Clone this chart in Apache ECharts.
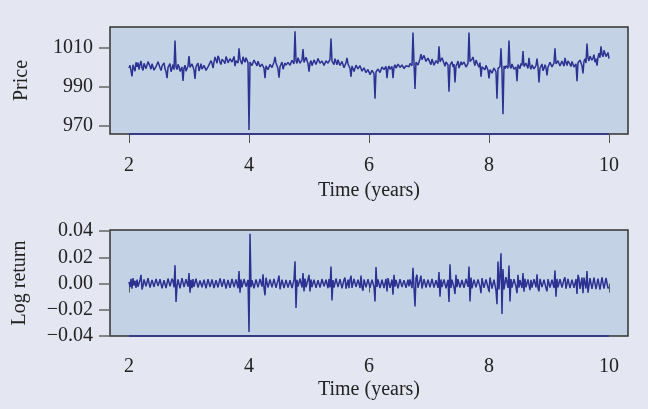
<!DOCTYPE html>
<html>
<head>
<meta charset="utf-8">
<script src="https://cdn.jsdelivr.net/npm/echarts@6/dist/echarts.min.js"></script>
<style>
html,body{margin:0;padding:0;background:#e4e6f1;}
#chart{width:648px;height:409px;}
</style>
</head>
<body>
<div id="chart"></div>
<script>
// Observation times: equally spaced samples from year 2 to year 10
const startYear = 2;
const stepYears = 1 / 60;

const xTicks = [2, 4, 6, 8, 10];
const priceTicks = [970, 990, 1010];
const returnTicks = [-0.04, -0.02, 0, 0.02, 0.04];

const price = [
  999.8, 1001.2, 998.4, 995.5, 1001.5, 999.6, 998.2, 1002.8, 1000.4, 1002.6, 999.0, 1001.7, 1003.4, 999.8, 998.6, 1002.2, 1001.9, 999.5, 1000.3, 1003.1,
  1003.9, 1000.6, 999.2, 1002.0, 1001.4, 998.7, 997.8, 1000.5, 1000.9, 1003.0, 1002.7, 999.9, 998.5, 1000.8, 1001.2, 1002.5, 999.4, 997.9, 994.6, 1000.2,
  1000.8, 1002.1, 997.9, 999.6, 1001.6, 999.0, 1014.0, 1000.4, 999.0, 1001.7, 1000.6, 998.1, 997.2, 1000.3, 993.2, 999.8, 1001.3, 998.2, 998.7, 1001.0,
  1006.0, 1000.1, 999.4, 1001.9, 1001.0, 998.8, 994.2, 1000.5, 1000.7, 1002.4, 998.3, 1000.0, 1002.1, 999.3, 999.0, 1001.2, 1001.8, 998.6, 997.6, 1000.4,
  1001.2, 999.8, 1003.6, 1002.2, 999.8, 1003.0, 1005.5, 1003.9, 1002.3, 1006.1, 1004.8, 1002.7, 1001.6, 1004.3, 1005.2, 1003.1, 1002.0, 1005.7, 1004.4, 1002.5,
  1001.9, 1004.6, 1005.0, 1002.9, 1003.1, 1005.8, 1000.8, 1003.6, 1004.6, 1002.4, 1010.0, 1004.2, 1003.5, 1001.8, 1005.6, 1003.9, 1002.8, 1005.1, 1004.9, 1002.6,
  968.0, 1002.9, 1003.8, 1001.1, 1001.2, 1003.9, 1004.6, 1002.0, 1000.9, 1003.3, 1003.2, 1000.5, 999.6, 1001.8, 1002.1, 999.7, 994.6, 1000.9, 1001.4, 999.0,
  998.9, 1001.6, 1002.6, 1000.1, 1000.3, 1002.9, 1005.5, 1002.4, 1001.0, 999.3, 994.8, 1000.6, 1001.7, 1002.9, 999.2, 1000.8, 1002.4, 1001.3, 1000.6, 1002.7,
  1003.3, 1001.2, 1001.0, 1003.8, 1004.1, 1002.0, 1018.7, 1003.5, 1002.2, 1005.1, 1004.5, 1002.3, 1001.9, 1004.0, 1009.5, 1002.7, 1003.0, 1005.3, 1004.8, 1002.1,
  998.0, 1002.4, 1003.6, 1001.0, 1001.4, 1004.0, 1004.2, 1001.6, 1002.0, 1004.7, 1005.1, 1002.3, 1001.7, 1003.4, 1003.9, 1001.2, 1000.8, 1003.5, 1004.0, 1002.3,
  1002.2, 1004.3, 1015.0, 1003.3, 1002.9, 1001.5, 1004.6, 1003.0, 1001.5, 1004.1, 1003.4, 1001.1, 1000.2, 1003.2, 1002.8, 1000.0, 999.7, 1002.5, 1005.0, 1001.9,
  1001.3, 999.6, 995.3, 1000.9, 1000.6, 998.0, 998.4, 1001.3, 1001.9, 999.4, 999.1, 1001.0, 1000.4, 998.2, 997.6, 999.9, 999.5, 997.4, 996.8, 999.1,
  998.9, 996.4, 996.0, 998.6, 998.2, 996.9, 984.0, 997.8, 997.4, 999.3, 999.8, 997.5, 997.0, 1000.4, 1001.2, 999.0, 998.6, 1000.7, 994.6, 999.6,
  1000.9, 999.2, 998.3, 1000.6, 994.6, 1000.2, 1001.5, 999.8, 999.4, 1001.8, 1002.3, 1000.1, 999.9, 1001.4, 1001.6, 999.5, 998.7, 1001.0, 1002.0, 1000.3,
  1000.5, 1002.2, 1003.1, 1001.0, 1018.0, 1002.5, 989.0, 1002.8, 1003.6, 1001.4, 1001.8, 1004.5, 1007.0, 1004.1, 1003.9, 1006.3, 1005.6, 1003.2, 1002.2, 1004.9,
  1004.7, 1002.6, 1001.5, 1004.4, 1003.8, 1001.2, 1000.9, 1003.6, 1004.2, 1002.1, 1011.0, 1003.0, 1002.6, 1005.1, 1004.1, 1002.2, 1000.7, 1002.9, 1003.3, 1001.4,
  987.6, 1001.3, 1002.0, 1003.1, 1000.4, 1001.8, 992.4, 1000.8, 1001.9, 1003.4, 999.8, 1001.2, 1003.0, 1001.5, 1000.6, 1002.9, 1002.8, 1000.3, 999.9, 1002.2,
  1018.0, 1003.1, 1002.5, 1004.4, 1005.5, 1002.7, 1001.0, 1003.9, 1003.7, 1001.4, 1000.2, 1002.6, 995.3, 1000.4, 1001.4, 1000.0, 998.9, 1001.2, 1000.6, 998.7,
  994.5, 999.0, 999.4, 997.2, 997.6, 999.8, 1000.2, 997.9, 984.0, 999.5, 998.8, 1000.6, 1010.0, 998.0, 976.0, 1000.9, 999.5, 1001.0, 1001.8, 999.7,
  1014.0, 1000.7, 999.6, 1001.9, 1001.7, 999.2, 998.9, 1000.4, 993.0, 1001.6, 1000.8, 999.5, 1002.2, 1001.1, 1008.5, 1000.6, 999.9, 1002.3, 1001.6, 999.6,
  1005.0, 1000.9, 999.2, 1001.4, 1001.9, 999.4, 998.6, 1001.1, 1004.7, 1000.5, 992.4, 999.7, 1000.3, 1001.9, 998.4, 999.6, 1001.5, 1000.0, 996.0, 1000.2,
  1000.9, 1002.8, 1002.6, 1000.4, 999.8, 1002.3, 1010.0, 1002.0, 1001.4, 1003.6, 1003.0, 1000.9, 1000.2, 1003.4, 1002.4, 1000.8, 1005.0, 1002.6, 1001.1, 1003.5,
  1004.2, 1001.8, 1000.6, 1003.2, 1002.9, 1000.3, 999.7, 1002.0, 993.0, 1002.5, 1001.8, 1003.9, 1003.4, 1001.0, 997.0, 1003.3, 1004.6, 1002.4, 1012.4, 1004.8,
  1003.5, 1005.9, 1006.2, 1003.8, 1005.0, 1006.7, 1002.8, 1004.6, 1001.0, 1005.3, 1007.4, 1005.1, 1011.0, 1006.8, 1005.6, 1008.9, 1008.3, 1005.7, 1006.0, 1007.8,
  1004.7
];

const logReturn = [
  0.0012, -0.0028, 0.0035, -0.0040, 0.0042, -0.0015, 0.0021, -0.0033, 0.0030, -0.0024, -0.0038, 0.0027, 0.0066, -0.0045, -0.0018, 0.0031, 0.0027, -0.0022, -0.0032, 0.0040,
  0.0036, -0.0031, -0.0024, 0.0028, 0.0019, -0.0026, -0.0041, 0.0035, 0.0028, -0.0020, -0.0015, 0.0033, 0.0039, -0.0037, -0.0030, 0.0025, 0.0022, -0.0034, -0.0046, 0.0038,
  0.0031, -0.0022, -0.0027, 0.0036, 0.0018, -0.0029, 0.0140, -0.0140, -0.0020, 0.0032, 0.0025, -0.0036, -0.0036, 0.0041, 0.0043, -0.0027, -0.0029, 0.0034, 0.0020, -0.0025,
  0.0080, -0.0070, 0.0029, -0.0035, 0.0034, -0.0026, -0.0041, 0.0037, 0.0026, -0.0031, -0.0019, 0.0024, 0.0037, -0.0028, -0.0033, 0.0030, 0.0021, -0.0036, -0.0028, 0.0033,
  0.0035, -0.0027, -0.0022, 0.0031, 0.0040, -0.0034, -0.0031, 0.0026, 0.0024, -0.0030, -0.0037, 0.0039, 0.0029, -0.0025, -0.0020, 0.0033, 0.0046, -0.0038, -0.0034, 0.0028,
  0.0027, -0.0032, -0.0039, 0.0035, 0.0022, -0.0028, -0.0026, 0.0031, 0.0038, -0.0036, 0.0096, -0.0070, 0.0031, -0.0029, -0.0025, 0.0034, 0.0036, -0.0024, -0.0031, 0.0027,
  -0.0370, 0.0380, -0.0028, 0.0025, 0.0033, -0.0036, -0.0040, 0.0031, 0.0026, -0.0029, -0.0032, 0.0035, 0.0028, -0.0024, 0.0070, -0.0033, -0.0090, 0.0044, 0.0041, -0.0030,
  -0.0027, 0.0032, 0.0035, -0.0029, -0.0038, 0.0036, 0.0029, -0.0033, -0.0021, 0.0027, 0.0060, -0.0044, -0.0044, 0.0030, 0.0032, -0.0035, -0.0026, 0.0028, 0.0039, -0.0031,
  -0.0030, 0.0026, 0.0024, -0.0035, -0.0036, 0.0030, 0.0170, -0.0187, 0.0028, -0.0024, -0.0033, 0.0037, 0.0029, -0.0030, 0.0080, -0.0060, 0.0037, -0.0028, -0.0025, 0.0033,
  0.0066, -0.0060, 0.0031, -0.0027, -0.0024, 0.0030, 0.0035, -0.0033, -0.0029, 0.0026, 0.0022, -0.0031, -0.0038, 0.0034, 0.0027, -0.0022, -0.0021, 0.0029, 0.0033, -0.0036,
  0.0033, -0.0029, 0.0130, -0.0130, 0.0026, -0.0031, -0.0035, 0.0038, 0.0040, -0.0027, -0.0027, 0.0033, 0.0031, -0.0036, -0.0023, 0.0029, 0.0045, -0.0040, -0.0036, 0.0030,
  -0.0036, 0.0028, 0.0060, -0.0033, -0.0048, 0.0035, 0.0029, -0.0026, -0.0032, 0.0030, 0.0024, -0.0034, 0.0060, -0.0029, -0.0055, 0.0032, 0.0036, -0.0028, -0.0030, 0.0034,
  0.0027, -0.0033, -0.0039, 0.0030, 0.0033, -0.0027, -0.0137, 0.0125, -0.0026, 0.0031, 0.0038, -0.0035, -0.0031, 0.0029, 0.0022, -0.0034, -0.0030, 0.0036, -0.0060, 0.0041,
  0.0045, -0.0033, -0.0028, 0.0031, -0.0086, 0.0066, -0.0024, 0.0028, 0.0032, -0.0036, -0.0037, 0.0034, 0.0025, -0.0027, -0.0030, 0.0026, 0.0036, -0.0032, -0.0024, 0.0030,
  -0.0022, 0.0031, 0.0029, -0.0035, 0.0120, -0.0030, -0.0175, 0.0040, 0.0067, -0.0032, -0.0034, 0.0027, 0.0060, -0.0038, -0.0041, 0.0033, 0.0027, -0.0030, -0.0025, 0.0029,
  0.0034, -0.0029, -0.0038, 0.0035, 0.0023, -0.0031, -0.0029, 0.0026, 0.0040, -0.0033, 0.0087, -0.0100, 0.0031, -0.0027, -0.0026, 0.0032, 0.0035, -0.0036, -0.0030, 0.0028,
  -0.0140, 0.0147, -0.0033, 0.0029, 0.0031, -0.0028, -0.0080, 0.0066, -0.0027, 0.0034, 0.0036, -0.0031, -0.0030, 0.0027, 0.0024, -0.0033, -0.0039, 0.0035, 0.0030, -0.0026,
  0.0130, -0.0137, 0.0045, -0.0036, -0.0032, 0.0030, 0.0026, -0.0029, -0.0035, 0.0032, 0.0028, -0.0024, -0.0073, 0.0041, 0.0041, -0.0033, -0.0028, 0.0031, 0.0033, -0.0030,
  -0.0060, 0.0046, 0.0038, -0.0038, -0.0041, 0.0029, 0.0035, -0.0052, -0.0157, 0.0167, -0.0045, 0.0062, 0.0230, -0.0233, 0.0110, -0.0045, -0.0050, 0.0048, 0.0039, -0.0034,
  0.0137, -0.0137, 0.0034, -0.0030, -0.0029, 0.0033, 0.0028, -0.0026, -0.0073, 0.0066, -0.0031, 0.0027, 0.0036, -0.0034, 0.0080, -0.0062, 0.0035, -0.0028, -0.0030, 0.0032,
  0.0045, -0.0050, 0.0028, -0.0031, -0.0036, 0.0033, 0.0031, -0.0029, 0.0070, -0.0034, -0.0060, 0.0036, 0.0031, -0.0027, -0.0027, 0.0030, 0.0038, -0.0035, -0.0060, 0.0034,
  0.0033, -0.0030, -0.0025, 0.0029, 0.0029, -0.0034, 0.0100, -0.0100, 0.0036, -0.0028, -0.0031, 0.0034, 0.0024, -0.0030, -0.0036, 0.0031, 0.0048, -0.0040, -0.0040, 0.0035,
  0.0032, -0.0035, -0.0036, 0.0030, 0.0027, -0.0032, -0.0030, 0.0034, -0.0080, 0.0066, 0.0038, -0.0041, -0.0033, 0.0045, -0.0073, 0.0045, 0.0045, -0.0038, 0.0096, -0.0070,
  -0.0070, 0.0041, 0.0037, -0.0040, -0.0033, 0.0045, 0.0040, -0.0042, -0.0045, 0.0038, 0.0052, -0.0046, -0.0038, 0.0047, 0.0044, -0.0039, -0.0035, 0.0042, 0.0040, -0.0036,
  -0.0030
];

const xMin = 1.683, xMax = 10.317;
const priceMin = 965.9, priceMax = 1020.9;
const retMin = -0.0400, retMax = 0.0408;

const FONT = '"Liberation Serif", "DejaVu Serif", serif';
const TEXT = '#222222';
const LINE = '#2d3192';

const priceData = price.map((v, i) => [startYear + i * stepYears, v]);
const retData = logReturn.map((v, i) => [startYear + i * stepYears, v]);

function fmtRet(v) {
  const s = Math.abs(v).toFixed(2);
  if (Math.abs(v) < 1e-9) return '0.00';
  return v < 0 ? '\u2212' + s : s;
}

function xAxisCfg(gridIndex, labelMargin, nameGap) {
  return {
    type: 'value', gridIndex: gridIndex, min: xMin, max: xMax,
    name: 'Time (years)', nameLocation: 'middle', nameGap: nameGap,
    nameTextStyle: {fontFamily: FONT, fontSize: 20, color: TEXT},
    axisLine: {show: false},
    axisTick: {show: true, length: 9, inside: false, customValues: xTicks, lineStyle: {color: '#555', width: 1}},
    axisLabel: {customValues: xTicks, margin: labelMargin, fontFamily: FONT, fontSize: 20, color: TEXT},
    splitLine: {show: false}
  };
}

function yAxisCfg(gridIndex, mn, mx, ticks, name, fmt, gap) {
  return {
    type: 'value', gridIndex: gridIndex, min: mn, max: mx,
    name: name, nameLocation: 'middle', nameGap: gap, nameRotate: 90,
    nameTextStyle: {fontFamily: FONT, fontSize: 20, color: TEXT},
    axisLine: {show: false},
    axisTick: {show: true, length: 11, customValues: ticks, lineStyle: {color: '#666', width: 1.5}},
    axisLabel: {customValues: ticks, margin: 17, fontFamily: FONT, fontSize: 20, color: TEXT, formatter: fmt},
    splitLine: {show: false}
  };
}

const chart = echarts.init(document.getElementById('chart'), null, {renderer: 'canvas'});
chart.setOption({
  backgroundColor: '#e4e6f1',
  animation: false,
  grid: [
    {left: 110, top: 27, width: 518, height: 107, show: true, backgroundColor: '#c3d2e5', borderColor: '#333', borderWidth: 1.5},
    {left: 110, top: 230, width: 518, height: 106, show: true, backgroundColor: '#c3d2e5', borderColor: '#333', borderWidth: 1.5}
  ],
  xAxis: [xAxisCfg(0, 22, 47), xAxisCfg(1, 21, 44)],
  yAxis: [
    yAxisCfg(0, priceMin, priceMax, priceTicks, 'Price', v => String(Math.round(v)), 78),
    yAxisCfg(1, retMin, retMax, returnTicks, 'Log return', fmtRet, 80)
  ],
  series: [
    {
      type: 'line', xAxisIndex: 0, yAxisIndex: 0, data: priceData, sampling: null,
      showSymbol: false, symbol: 'none', lineStyle: {color: LINE, width: 1.5}, silent: true,
      markLine: {silent: true, symbol: 'none', label: {show: false},
        lineStyle: {color: LINE, type: 'solid', width: 1.5},
        data: [[{coord: [xTicks[0], priceMin]}, {coord: [xTicks[xTicks.length - 1], priceMin]}]]}
    },
    {
      type: 'line', xAxisIndex: 1, yAxisIndex: 1, data: retData, sampling: null,
      showSymbol: false, symbol: 'none', lineStyle: {color: LINE, width: 1.5}, silent: true,
      markLine: {silent: true, symbol: 'none', label: {show: false},
        lineStyle: {color: LINE, type: 'solid', width: 1.5},
        data: [[{coord: [xTicks[0], retMin]}, {coord: [xTicks[xTicks.length - 1], retMin]}]]}
    }
  ]
});
</script>
</body>
</html>
